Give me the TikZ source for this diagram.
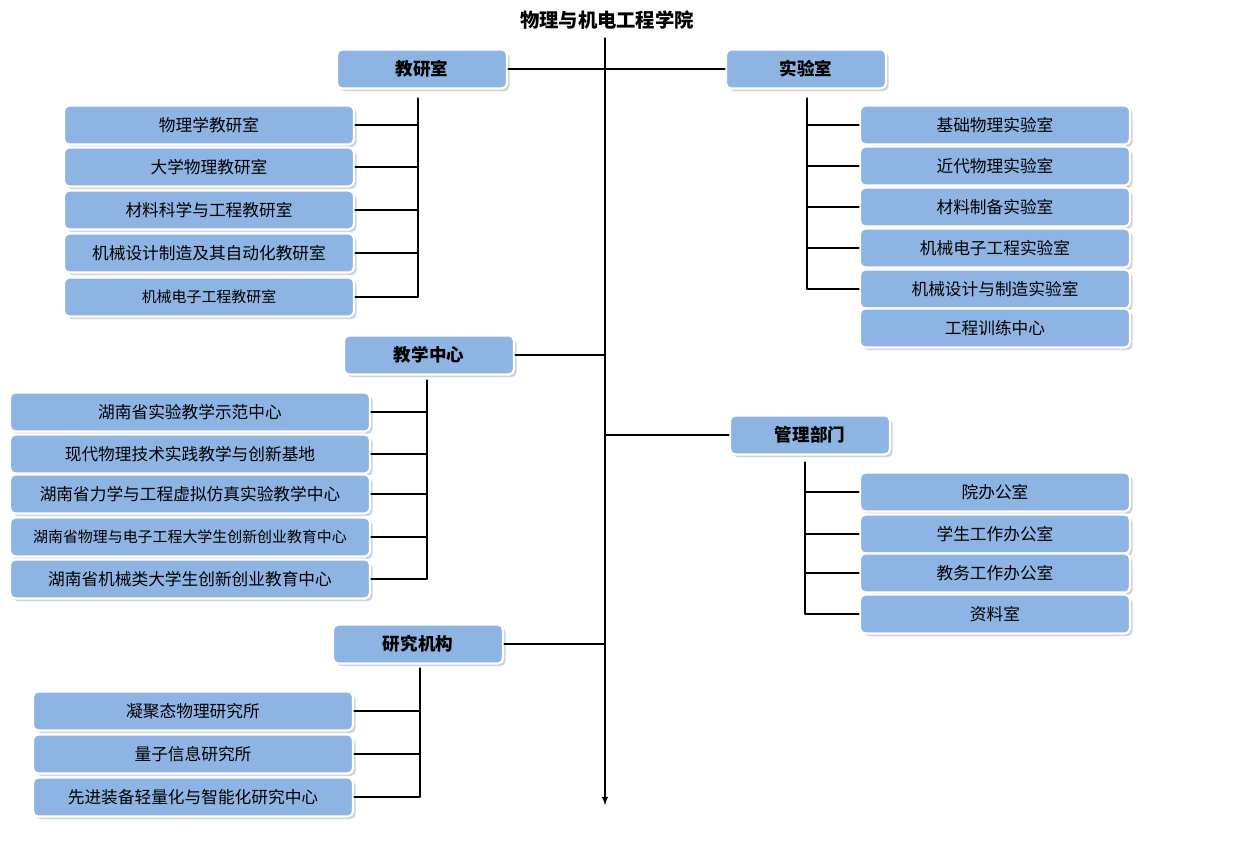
\documentclass[tikz,border=0pt]{standalone}
\usepackage{fontspec}
\setmainfont{Noto Sans CJK SC}
\usetikzlibrary{shadows}
\begin{document}
\begin{tikzpicture}[x=0.02cm,y=-0.02cm,thick,line cap=round]
	\tikzstyle{kuang}=[rectangle,rounded corners=3pt,fill={rgb,255:red,141;green,180;blue,227},draw=white,line width=1.2pt,drop shadow={shadow xshift=1.5pt,shadow yshift=-1.5pt,fill=black!35},inner sep=0pt,minimum height=0.78cm,font=\fontsize{9.5}{11}\selectfont];
	\tikzstyle{tou}=[kuang,font=\fontsize{10}{12}\selectfont\bfseries];
	\tikzstyle{xian}=[black,line width=0.6pt];
	\useasboundingbox (0,0) rectangle (1257,840);
	%% title
	\node[font=\fontsize{11}{13}\selectfont\bfseries] (T) at (607,20) {物理与机电工程学院};
	\coordinate (top) at (605,38);
	\coordinate (bot) at (605,805);
	\draw[xian,-latex] (top) -- (bot);
	%% headings
	\node[tou,minimum width=3.4cm] (A) at (422,69)  {教研室};
	\node[tou,minimum width=3.2cm] (B) at (806,69)  {实验室};
	\node[tou,minimum width=3.4cm] (C) at (429,355) {教学中心};
	\node[tou,minimum width=3.2cm] (D) at (810,435) {管理部门};
	\node[tou,minimum width=3.4cm] (E) at (418,644) {研究机构};
	\draw[xian] (A.east) -- (B.west);
	\draw[xian] (C.east) -- (C.east -| top);
	\draw[xian] (E.east) -- (E.east -| top);
	\draw[xian] (D.west -| top) -- (D.west);
	%% teaching offices
	\foreach \n/\y/\t in {A1/125/物理学教研室,A2/167/大学物理教研室,A3/210/材料科学与工程教研室,A4/253/机械设计制造及其自动化教研室,A5/297/{\fontsize{8.5}{10}\selectfont 机械电子工程教研室}}{
		\node[kuang,minimum width=5.8cm] (\n) at (209,\y) {\t};
		\draw[xian] (\n.east) -- (418,\y);
	}
	\draw[xian] (418,98) -- (418,297);
	%% laboratories
	\foreach \n/\y/\t in {B1/125/基础物理实验室,B2/166/近代物理实验室,B3/207/材料制备实验室,B4/248/机械电子工程实验室,B5/289/机械设计与制造实验室,B6/328/工程训练中心}{
		\node[kuang,minimum width=5.4cm] (\n) at (995,\y) {\t};
	}
	\foreach \n/\y in {B1/125,B2/166,B3/207,B4/248,B5/289}{
		\draw[xian] (807,\y) -- (\n.west);
	}
	\draw[xian] (807,98) -- (807,289);
	%% teaching centres
	\foreach \n/\y/\t in {C1/412/湖南省实验教学示范中心,C2/454/现代物理技术实践教学与创新基地,C3/494/湖南省力学与工程虚拟仿真实验教学中心,C4/537/{\fontsize{8.5}{10}\selectfont 湖南省物理与电子工程大学生创新创业教育中心},C5/579/湖南省机械类大学生创新创业教育中心}{
		\node[kuang,minimum width=7.2cm] (\n) at (190,\y) {\t};
		\draw[xian] (\n.east) -- (427,\y);
	}
	\draw[xian] (427,380) -- (427,579);
	%% administration
	\foreach \n/\y/\t in {D1/492/院办公室,D2/534/学生工作办公室,D3/573/教务工作办公室,D4/614/资料室}{
		\node[kuang,minimum width=5.4cm] (\n) at (995,\y) {\t};
		\draw[xian] (805,\y) -- (\n.west);
	}
	\draw[xian] (805,462) -- (805,614);
	%% research institutes
	\foreach \n/\y/\t in {E1/711/凝聚态物理研究所,E2/754/量子信息研究所,E3/797/先进装备轻量化与智能化研究中心}{
		\node[kuang,minimum width=6.4cm] (\n) at (193,\y) {\t};
		\draw[xian] (\n.east) -- (420,\y);
	}
	\draw[xian] (420,668) -- (420,797);
\end{tikzpicture}
\end{document}
